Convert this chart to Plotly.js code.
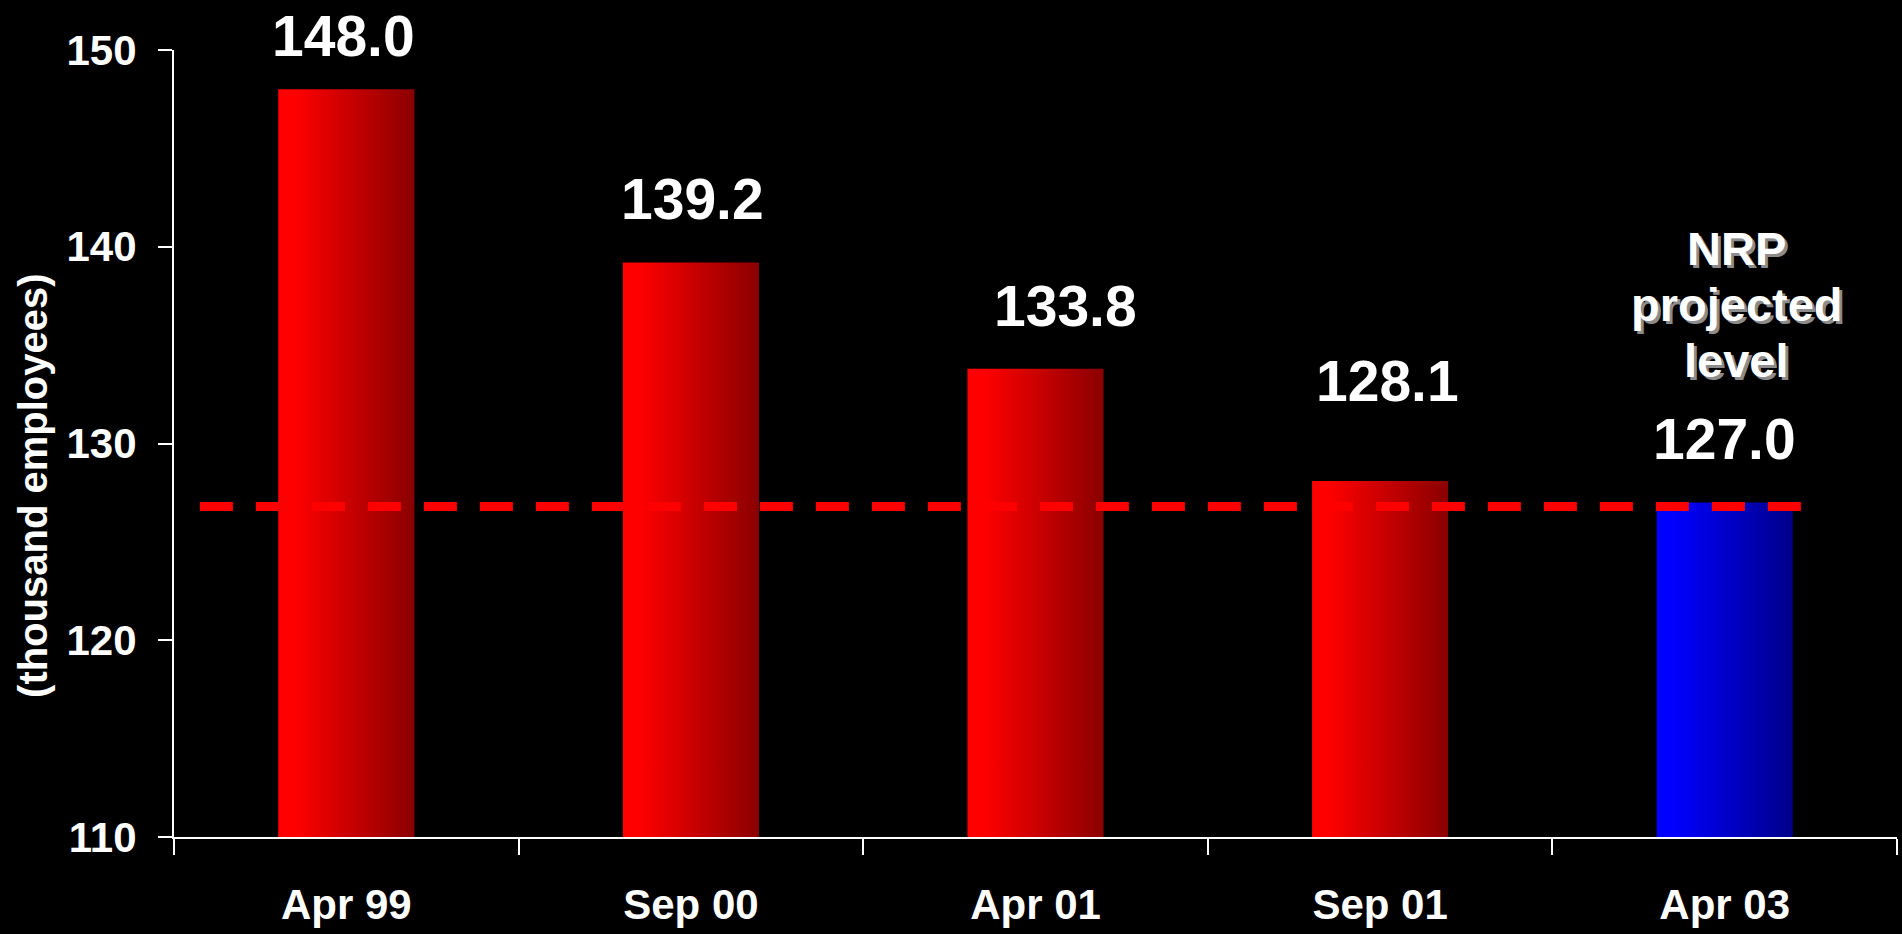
<!DOCTYPE html>
<html>
<head>
<meta charset="utf-8">
<script src="https://cdn.plot.ly/plotly-3.0.1.min.js"></script>
<style>
  html, body { margin: 0; padding: 0; background: #000; }
  #chart { width: 1902px; height: 934px; }
</style>
</head>
<body>
<div id="chart"></div>
<script>
// data
const periods = ['Apr 99', 'Sep 00', 'Apr 01', 'Sep 01', 'Apr 03'];
const employees = [148.0, 139.2, 133.8, 128.1, 127.0];
const barKind = ['actual', 'actual', 'actual', 'actual', 'projected'];
const nrpLevel = 126.8;
const nrpNote = ['NRP', 'projected', 'level'];
const yTicks = [110, 120, 130, 140, 150];

const FONT = '"Liberation Sans", Arial, sans-serif';

// value labels were hand placed on the slide, so nudge each one a bit
const labelDx = [-3, 2, 30, 7, 0];
const labelDy = [19, 29, 29, 66, 30];

const bars = {
    type: 'bar',
    x: periods,
    y: employees,
    marker: {
        color: barKind.map(k => k === 'projected' ? '#0000ff' : '#ff0000'),
        line: { width: 0 }
    },
    hoverinfo: 'x+y'
};

const annotations = employees.map((v, i) => ({
    x: periods[i],
    y: v,
    xref: 'x',
    yref: 'y',
    text: v.toFixed(1),
    showarrow: false,
    yanchor: 'bottom',
    xshift: labelDx[i],
    yshift: labelDy[i],
    font: { family: FONT, size: 57, color: '#ffffff', weight: 'bold' }
}));

// the "NRP projected level" note above the last bar, one line each
nrpNote.forEach((line, j) => {
    annotations.push({
        x: periods[periods.length - 1],
        y: employees[employees.length - 1],
        xref: 'x',
        yref: 'y',
        text: line,
        showarrow: false,
        yanchor: 'bottom',
        xshift: 12,
        yshift: 114 + (nrpNote.length - 1 - j) * 56,
        font: { family: FONT, size: 47, color: '#ffffff', weight: 'bold',
                shadow: '3px 3px 0px #8c8c8c' }
    });
});

annotations.push({
    xref: 'paper',
    yref: 'paper',
    x: -0.082,
    y: 0.447,
    text: '(thousand employees)',
    textangle: -90,
    showarrow: false,
    xanchor: 'center',
    yanchor: 'middle',
    font: { family: FONT, size: 40, color: '#ffffff', weight: 'bold' }
});

const tickFont = { family: FONT, size: 42, color: '#ffffff', weight: 'bold' };

const layout = {
    width: 1902,
    height: 934,
    paper_bgcolor: '#000000',
    plot_bgcolor: '#000000',
    margin: { l: 174, r: 5, t: 50, b: 97 },
    bargap: 0.605,
    showlegend: false,
    xaxis: {
        type: 'category',
        range: [-0.5, 4.5],
        showgrid: false,
        zeroline: false,
        showline: true,
        linecolor: '#ffffff',
        linewidth: 2,
        ticks: 'outside',
        tickson: 'boundaries',
        ticklen: 16,
        tickwidth: 2,
        tickcolor: '#ffffff',
        ticklabelstandoff: 30,
        tickfont: tickFont
    },
    yaxis: {
        range: [110, 150],
        tickvals: yTicks,
        showgrid: false,
        zeroline: false,
        showline: true,
        linecolor: '#ffffff',
        linewidth: 2,
        ticks: 'outside',
        ticklen: 14,
        tickwidth: 2,
        tickcolor: '#ffffff',
        ticklabelstandoff: 13,
        tickfont: tickFont
    },
    shapes: [{
        type: 'line',
        xref: 'paper',
        yref: 'y',
        x0: 0.015,
        x1: 0.951,
        y0: nrpLevel,
        y1: nrpLevel,
        layer: 'above',
        line: { color: '#ff0000', width: 9, dash: '33px,23px' }
    }],
    annotations: annotations
};

// plotly has no gradient fill for bars, so add svg gradients after drawing
function addGradients(gd) {
    const svg = gd.querySelector('svg.main-svg');
    const ns = 'http://www.w3.org/2000/svg';
    let defs = svg.querySelector('defs');
    if (!defs) { defs = document.createElementNS(ns, 'defs'); svg.prepend(defs); }

    const grads = {
        actual: ['#ff0000', '#ff0000', '#8a0000'],
        projected: ['#0000ff', '#0000ff', '#00008a']
    };
    Object.keys(grads).forEach(k => {
        const g = document.createElementNS(ns, 'linearGradient');
        g.setAttribute('id', 'grad-' + k);
        g.setAttribute('x1', '0'); g.setAttribute('x2', '1');
        g.setAttribute('y1', '0'); g.setAttribute('y2', '0');
        [0, 0.12, 1].forEach((off, i) => {
            const s = document.createElementNS(ns, 'stop');
            s.setAttribute('offset', off);
            s.setAttribute('stop-color', grads[k][i]);
            g.appendChild(s);
        });
        defs.appendChild(g);
    });

    gd.querySelectorAll('.barlayer .point path').forEach((p, i) => {
        p.style.fill = 'url(#grad-' + barKind[i] + ')';
    });
}

Plotly.newPlot('chart', [bars], layout, { displayModeBar: false })
    .then(gd => addGradients(gd));
</script>
</body>
</html>
